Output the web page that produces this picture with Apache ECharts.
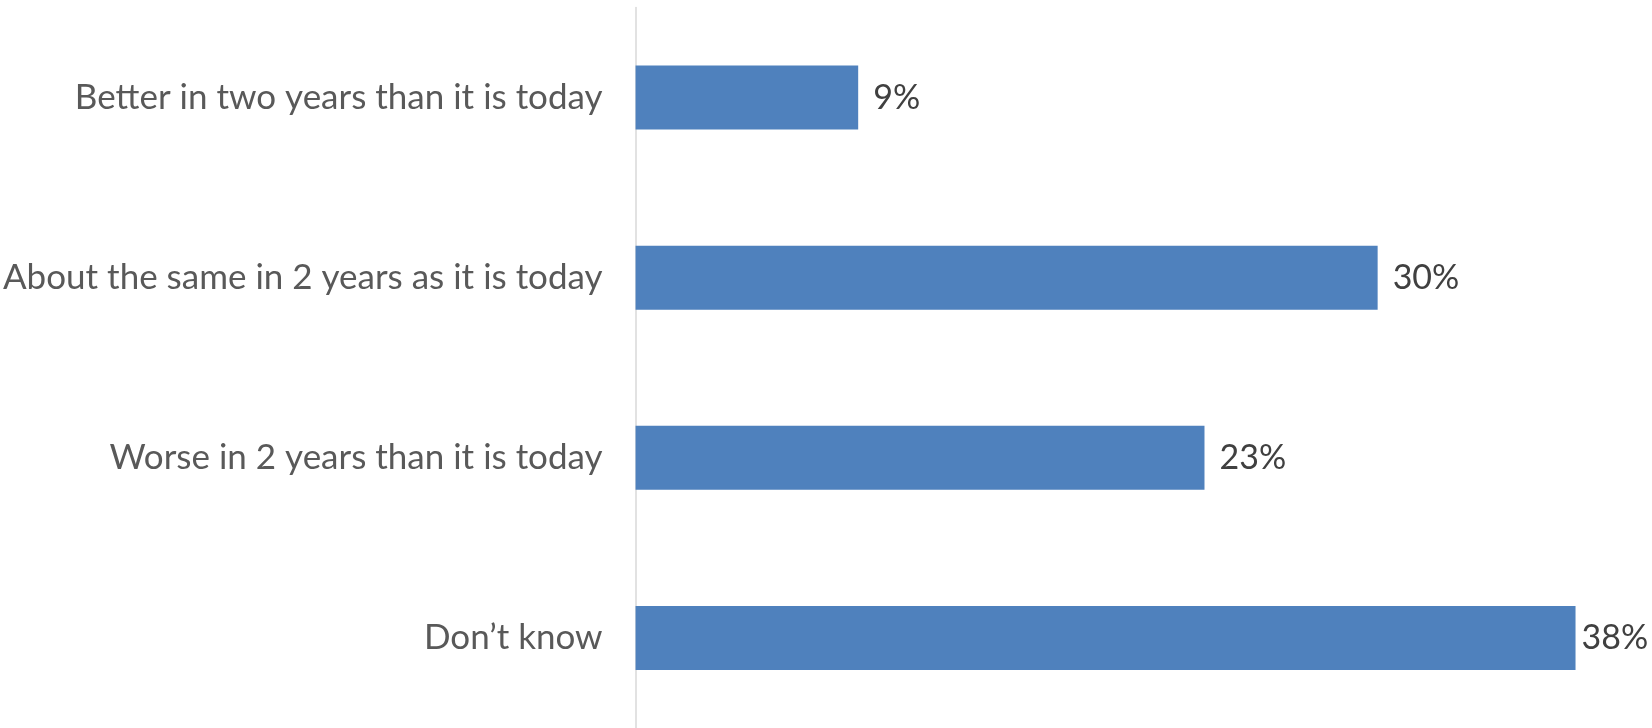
<!DOCTYPE html>
<html>
<head>
<meta charset="utf-8">
<script src="https://cdn.jsdelivr.net/npm/echarts@6/dist/echarts.min.js"></script>
<style>
  html, body { margin: 0; padding: 0; background: #fff; }
  #chart { width: 1652px; height: 728px; }
</style>
</head>
<body>
<div id="chart"></div>
<script>
// categories, top to bottom
const categories = [
  'Better in two years than it is today',
  'About the same in 2 years as it is today',
  'Worse in 2 years than it is today',
  'Don\u2019t know'
];
// percent of respondents
const values = [9, 30, 23, 38];

const chart = echarts.init(document.getElementById('chart'));
chart.setOption({
  animation: false,
  grid: { left: 635, right: 27, top: 7.5, height: 724 },
  xAxis: {
    type: 'value',
    min: 0,
    max: 40,
    show: false
  },
  yAxis: {
    type: 'category',
    inverse: true,
    data: categories,
    axisLine: { lineStyle: { color: '#d9d9d9', width: 1.5 } },
    axisTick: { show: false },
    axisLabel: {
      margin: 33,
      color: '#595959',
      fontSize: 35,
      fontFamily: 'Lato'
    }
  },
  series: [{
    type: 'bar',
    data: values.map((v, i) => i === values.length - 1
      ? { value: v, label: { distance: 6 } }
      : v),
    barWidth: 64,
    itemStyle: { color: '#4f81bd' },
    label: {
      show: true,
      position: 'right',
      distance: 15,
      formatter: '{c}%',
      color: '#404040',
      fontSize: 34,
      fontFamily: 'Lato'
    }
  }]
});
</script>
</body>
</html>
